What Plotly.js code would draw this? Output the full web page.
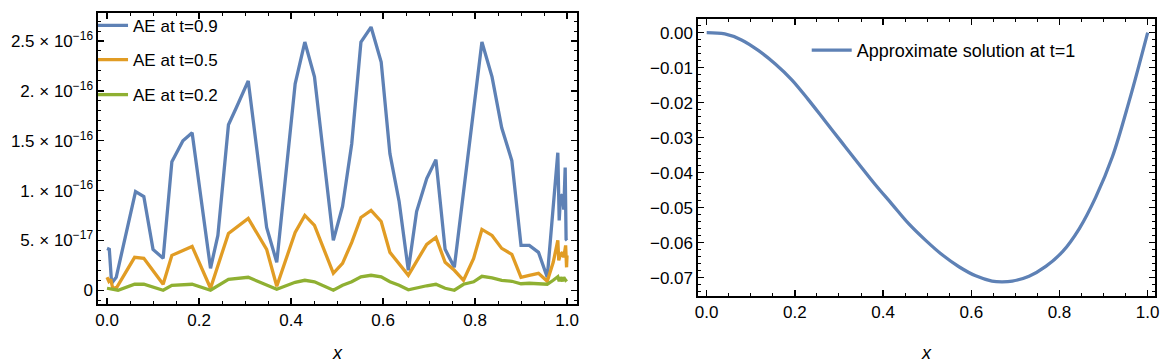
<!DOCTYPE html>
<html>
<head>
<meta charset="utf-8">
<script src="https://cdn.plot.ly/plotly-3.0.1.min.js"></script>
<style>html,body{margin:0;padding:0;background:#fff;}#chart{width:1166px;height:363px;}</style>
</head>
<body>
<div id="chart"></div>
<script>
// ---- Left panel: absolute error (AE) ----
const ae09X = [0, 0.005, 0.010, 0.020, 0.062, 0.080, 0.100, 0.122, 0.141, 0.165, 0.185, 0.225, 0.241, 0.264, 0.281, 0.307, 0.347, 0.369, 0.409, 0.430, 0.451, 0.492, 0.512, 0.532, 0.552, 0.574, 0.596, 0.615, 0.635, 0.655, 0.673, 0.695, 0.715, 0.735, 0.755, 0.815, 0.837, 0.858, 0.880, 0.900, 0.918, 0.938, 0.957, 0.980, 0.983, 0.986, 0.990, 0.993, 0.996, 0.998, 1.000];
const ae09Y = [4.2e-17, 4.1e-17, 0.7e-17, 1.3e-17, 9.9e-17, 9.4e-17, 4.1e-17, 3.2e-17, 12.9e-17, 15.0e-17, 15.8e-17, 2.2e-17, 5.5e-17, 16.6e-17, 18.3e-17, 21.0e-17, 6.3e-17, 2.8e-17, 20.7e-17, 24.9e-17, 21.4e-17, 5.0e-17, 8.4e-17, 14.7e-17, 24.9e-17, 26.4e-17, 22.9e-17, 13.7e-17, 8.9e-17, 2.0e-17, 7.9e-17, 11.2e-17, 13.1e-17, 4.1e-17, 2.3e-17, 24.9e-17, 21.4e-17, 16.3e-17, 13.0e-17, 4.5e-17, 4.5e-17, 3.8e-17, 1.3e-17, 13.8e-17, 7.0e-17, 9.4e-17, 9.6e-17, 8.1e-17, 12.3e-17, 5.1e-17, 5.0e-17];

const ae05X = [0, 0.004, 0.008, 0.012, 0.020, 0.060, 0.080, 0.122, 0.141, 0.185, 0.225, 0.264, 0.307, 0.347, 0.369, 0.409, 0.430, 0.451, 0.492, 0.512, 0.532, 0.552, 0.574, 0.596, 0.615, 0.635, 0.655, 0.673, 0.695, 0.715, 0.735, 0.755, 0.775, 0.797, 0.815, 0.837, 0.858, 0.880, 0.900, 0.918, 0.938, 0.957, 0.970, 0.980, 0.982, 0.986, 0.990, 0.993, 0.997, 0.999, 1.000];
const ae05Y = [1.3e-17, 0.9e-17, 1.1e-17, 0.3e-17, 0.2e-17, 3.3e-17, 3.2e-17, 0.6e-17, 3.5e-17, 4.4e-17, 0.2e-17, 5.7e-17, 7.2e-17, 4.1e-17, 0.4e-17, 5.8e-17, 7.5e-17, 6.5e-17, 1.7e-17, 2.7e-17, 4.8e-17, 7.3e-17, 8.0e-17, 6.9e-17, 3.8e-17, 2.7e-17, 1.5e-17, 2.9e-17, 4.6e-17, 5.3e-17, 2.8e-17, 2.0e-17, 1.0e-17, 3.2e-17, 6.1e-17, 5.5e-17, 4.2e-17, 3.6e-17, 1.3e-17, 1.5e-17, 1.7e-17, 0.9e-17, 2.8e-17, 5.0e-17, 3.0e-17, 3.6e-17, 3.8e-17, 3.3e-17, 4.5e-17, 2.3e-17, 3.5e-17];

const ae02X = [0, 0.010, 0.024, 0.060, 0.080, 0.122, 0.141, 0.185, 0.225, 0.264, 0.307, 0.369, 0.409, 0.430, 0.451, 0.492, 0.512, 0.532, 0.552, 0.574, 0.596, 0.615, 0.635, 0.655, 0.673, 0.695, 0.715, 0.735, 0.755, 0.775, 0.797, 0.815, 0.837, 0.858, 0.880, 0.900, 0.918, 0.938, 0.957, 0.970, 0.980, 0.983, 0.986, 0.990, 0.993, 0.997, 1.000];
const ae02Y = [0.2e-17, 0.1e-17, 0.0, 0.6e-17, 0.6e-17, 0.0, 0.5e-17, 0.6e-17, 0.0, 1.1e-17, 1.3e-17, 0.1e-17, 0.8e-17, 1.0e-17, 0.85e-17, 0.0, 0.5e-17, 0.85e-17, 1.35e-17, 1.5e-17, 1.35e-17, 0.85e-17, 0.5e-17, 0.05e-17, 0.25e-17, 0.45e-17, 0.6e-17, 0.2e-17, 0.0, 0.6e-17, 0.85e-17, 1.4e-17, 1.25e-17, 1.0e-17, 0.9e-17, 0.65e-17, 0.7e-17, 0.65e-17, 0.6e-17, 1.0e-17, 1.35e-17, 0.9e-17, 1.3e-17, 0.9e-17, 1.3e-17, 1.0e-17, 1.1e-17];

const aeTickVals = [0, 5e-17, 1e-16, 1.5e-16, 2e-16, 2.5e-16];
const aeTickText = ["0", "5. \u00d7 10<sup>\u221217</sup>", "1. \u00d7 10<sup>\u221216</sup>", "1.5 \u00d7 10<sup>\u221216</sup>", "2. \u00d7 10<sup>\u221216</sup>", "2.5 \u00d7 10<sup>\u221216</sup>"];

// ---- Right panel: approximate solution at t=1 ----
const solX = [0, 0.041, 0.079, 0.117, 0.155, 0.193, 0.230, 0.268, 0.306, 0.344, 0.382, 0.420, 0.458, 0.496, 0.534, 0.572, 0.610, 0.647, 0.670, 0.693, 0.731, 0.769, 0.807, 0.845, 0.882, 0.920, 0.958, 1.000];
const solY = [0, -0.0004, -0.0021, -0.0051, -0.0089, -0.0135, -0.0191, -0.0252, -0.0313, -0.0374, -0.0434, -0.0490, -0.0546, -0.0593, -0.0635, -0.0669, -0.0695, -0.0710, -0.0712, -0.0710, -0.0696, -0.0668, -0.0626, -0.0560, -0.0471, -0.0355, -0.0196, 0];

const BLUE = '#5E81B5', ORANGE = '#E19C24', GREEN = '#8FB032';
const FONT = 'Liberation Sans, Arial, sans-serif';

const traces = [
  {x: ae09X, y: ae09Y, type: 'scatter', mode: 'lines', name: 'AE at t=0.9', line: {color: BLUE, width: 3.3}, xaxis: 'x', yaxis: 'y', legend: 'legend'},
  {x: ae05X, y: ae05Y, type: 'scatter', mode: 'lines', name: 'AE at t=0.5', line: {color: ORANGE, width: 3.3}, xaxis: 'x', yaxis: 'y', legend: 'legend2'},
  {x: ae02X, y: ae02Y, type: 'scatter', mode: 'lines', name: 'AE at t=0.2', line: {color: GREEN, width: 3.3}, xaxis: 'x', yaxis: 'y', legend: 'legend3'},
  {x: solX, y: solY, type: 'scatter', mode: 'lines', name: 'Approximate solution at t=1', line: {color: BLUE, width: 3.3, shape: 'spline', smoothing: 1}, xaxis: 'x2', yaxis: 'y2', legend: 'legend4'}
];

const axisCommon = {
  showline: true, linecolor: '#000', linewidth: 1.6, mirror: 'allticks',
  ticks: 'inside', ticklen: 6, tickwidth: 1.3, tickcolor: '#000',
  showgrid: false, zeroline: false,
  tickfont: {family: FONT, size: 17, color: '#000'},
  automargin: false
};
const minorX = {ticks: 'inside', ticklen: 3, tickwidth: 1, tickcolor: '#000', dtick: 0.05, tick0: 0, showgrid: false};

function legendAt(x, y, iw, fs) {
  return {x: x, y: y, xref: 'paper', yref: 'paper', xanchor: 'left', yanchor: 'middle',
    bgcolor: 'rgba(0,0,0,0)', borderwidth: 0, itemwidth: iw,
    font: {family: FONT, size: fs, color: '#000'}};
}

const layout = {
  width: 1166, height: 363,
  margin: {l: 98, r: 11, t: 8, b: 59},
  paper_bgcolor: '#fff', plot_bgcolor: '#fff',
  showlegend: true,
  xaxis: Object.assign({}, axisCommon, {
    domain: [0, 0.45317], range: [-0.0196, 1.0217], anchor: 'y',
    tick0: 0, dtick: 0.2, tickformat: '.1f', minor: minorX,
    title: {text: '<i>x</i>', font: {family: FONT, size: 18, color: '#000'}, standoff: 26}
  }),
  yaxis: Object.assign({}, axisCommon, {
    domain: [0, 1], range: [-1.38e-17, 2.781e-16], anchor: 'x',
    tickmode: 'array', tickvals: aeTickVals, ticktext: aeTickText,
    minor: {ticks: 'inside', ticklen: 3, tickwidth: 1, tickcolor: '#000', tick0: 0, dtick: 1e-17, showgrid: false}
  }),
  xaxis2: Object.assign({}, axisCommon, {
    domain: [0.56764, 1], range: [-0.0197, 1.0166], anchor: 'y2',
    tick0: 0, dtick: 0.2, tickformat: '.1f', minor: minorX,
    title: {text: '<i>x</i>', font: {family: FONT, size: 18, color: '#000'}, standoff: 26}
  }),
  yaxis2: Object.assign({}, axisCommon, {
    domain: [0.02703, 0.97973], range: [-0.0753, 0.0039], anchor: 'x2',
    tick0: 0, dtick: 0.01, tickformat: '.2f',
    minor: {ticks: 'inside', ticklen: 3, tickwidth: 1, tickcolor: '#000', tick0: 0, dtick: 0.002, showgrid: false}
  }),
  legend: legendAt(-0.0047, 0.9561, 30, 17),
  legend2: legendAt(-0.0047, 0.838, 30, 17),
  legend3: legendAt(-0.0047, 0.718, 30, 17),
  legend4: legendAt(0.6705, 0.8716, 40, 18)
};

Plotly.newPlot('chart', traces, layout, {staticPlot: true, displayModeBar: false});
</script>
</body>
</html>
